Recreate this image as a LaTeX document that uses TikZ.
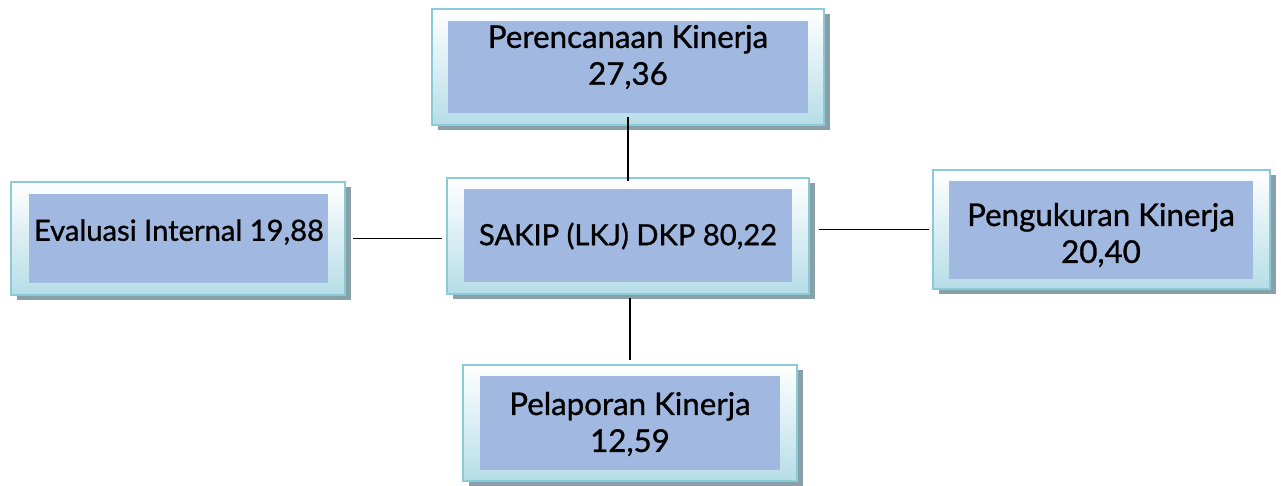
\documentclass[tikz,border=0pt]{standalone}
\usepackage{fontspec}
\setmainfont{Lato}
\newfontfamily\boxfont{Lato}[FakeBold=1.0]
\usepackage{color}
\usepackage{tikz}
\usetikzlibrary{shadows}

\definecolor{panelblue}{RGB}{161,185,224}
\definecolor{framecyan}{RGB}{138,203,218}
\definecolor{framelight}{RGB}{182,221,231}
\definecolor{shadowgray}{RGB}{136,160,167}

\tikzset{
    outerbox/.style={draw=framecyan, line width=1.1pt, inner sep=0pt,
        top color=white, bottom color=framelight,
        drop shadow={shadow xshift=0.12cm, shadow yshift=-0.1cm,
            fill=shadowgray, opacity=1}},
    panel/.style={fill=panelblue, inner sep=0pt},
    boxtext/.style={align=center, inner sep=0pt,
        font=\boxfont\fontsize{17.8}{21}\selectfont},
    narrowtext/.style={boxtext, font=\boxfont\fontsize{16.6}{21}\selectfont},
    link/.style={line width=0.8pt}
}

\begin{document}
\begin{tikzpicture}[x=0.02cm, y=-0.02cm]
    \useasboundingbox (0, 0) rectangle (1281, 485);

    % outer frames
    \node[outerbox, minimum width=7.84cm, minimum height=2.32cm] (plan) at (628, 67) {};
    \node[outerbox, minimum width=6.68cm, minimum height=2.26cm] (eval) at (178, 238.5) {};
    \node[outerbox, minimum width=7.24cm, minimum height=2.32cm] (sakip) at (628, 236) {};
    \node[outerbox, minimum width=6.74cm, minimum height=2.38cm] (meas) at (1101.5, 229.5) {};
    \node[outerbox, minimum width=6.68cm, minimum height=2.32cm] (report) at (630, 423) {};

    % blue panels
    \node[panel, minimum width=7.2cm, minimum height=1.84cm] (plan-in) at (628, 67) {};
    \node[panel, minimum width=5.98cm, minimum height=1.78cm] (eval-in) at (178.5, 238.5) {};
    \node[panel, minimum width=6.56cm, minimum height=1.86cm] (sakip-in) at (628, 235.5) {};
    \node[panel, minimum width=6.08cm, minimum height=1.96cm] (meas-in) at (1101, 230) {};
    \node[panel, minimum width=6.0cm, minimum height=1.88cm] (report-in) at (630, 423) {};

    % texts
    \node[boxtext] (plan-txt) at (628, 57) {Perencanaan Kinerja\\27,36};
    \node[narrowtext] (eval-txt) at (179, 232) {Evaluasi Internal 19,88};
    \node[narrowtext] (sakip-txt) at (628, 236) {SAKIP (LKJ) DKP 80,22};
    \node[boxtext] (meas-txt) at (1101, 235) {Pengukuran Kinerja\\20,40};
    \node[boxtext] (report-txt) at (630, 424) {Pelaporan Kinerja\\12,59};

    % connectors
    \draw[link] ([yshift=-0.08cm]plan-in.south) -- ([yshift=-0.08cm]plan-in.south |- sakip.north);
    \draw[link] ([xshift=0.14cm]eval.east) -- ([xshift=-0.08cm]eval.east -| sakip.west);
    \draw[link] ([xshift=-0.06cm]meas.west) -- ([xshift=0.18cm]meas.west -| sakip.east);
    \draw[link] ([yshift=0.08cm]report.north) -- ([yshift=-0.06cm]report.north |- sakip.south);
\end{tikzpicture}
\end{document}
